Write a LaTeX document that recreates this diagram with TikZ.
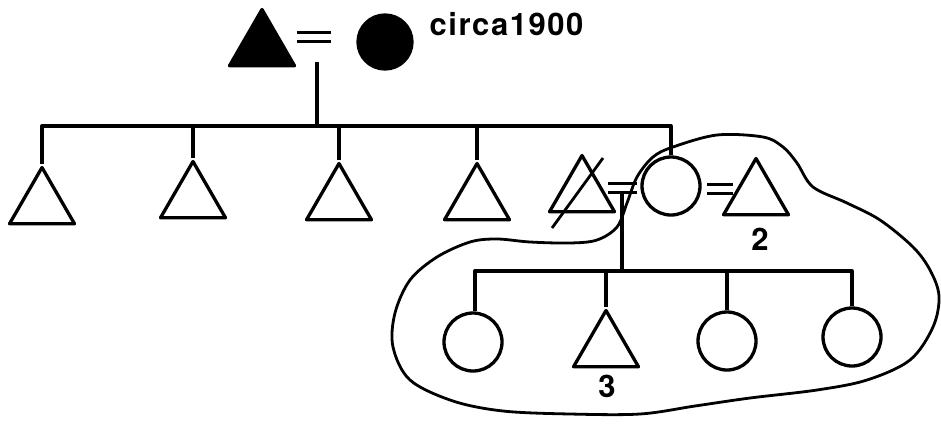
\documentclass[tikz,border=0pt]{standalone}
\usepackage{fontspec}
\setsansfont{TeX Gyre Heros}
\usetikzlibrary{positioning, calc, shapes.geometric}

\begin{document}
\begin{tikzpicture}[
  x=1pt, y=-1pt,
  line width=3.3pt, line join=round,
  male/.style={draw, regular polygon, regular polygon sides=3,
               minimum size=75pt, inner sep=0pt},
  female/.style={draw, circle, minimum size=58pt, inner sep=0pt},
  couple/.style={double, double distance=6pt},
  tag/.style={font=\sffamily\bfseries\fontsize{31}{31}\selectfont, inner sep=0pt},
  outline/.style={line width=2.8pt},
]
\useasboundingbox (0,0) rectangle (941,424);

\node[male, fill] (gf) at (262,47) {};
\node[female, fill, minimum size=54pt] (gm) at (385,42) {};
\node[tag, anchor=base west] (date) at (428,35) {\addfontfeature{LetterSpace=5}circa1900};
\coordinate (m0a) at (297,37);
\coordinate (m0b) at (331,37);
\coordinate (d0) at (317,62);

\node[male] (s1) at (42,205) {};
\node[male] (s2) at (193,199) {};
\node[male] (s3) at (339,201) {};
\node[male] (s4) at (477,201) {};
\node[male] (h1) at (582,193) {};
\node[female] (w) at (671,186) {};
\node[male] (h2) at (756,196) {};
\node[tag, anchor=base] (n2) at (760,250) {2};
\coordinate (sibL) at (42,126);
\coordinate (m1a) at (608,188);
\coordinate (m1b) at (637,188);
\coordinate (m2a) at (707,189);
\coordinate (m2b) at (733,189);
\coordinate (d1) at (622,192);

\node[female] (k1) at (473,342) {};
\node[male] (k2) at (606,348) {};
\node[female] (k3) at (727,341) {};
\node[female] (k4) at (852,337) {};
\node[tag, anchor=base] (n3) at (607,397) {3};
\coordinate (kidL) at (475,271);

\draw[couple] (m0a) -- (m0b);
\draw (d0) -- (d0 |- sibL);
\draw (s1.corner 1) -- (sibL) -- (w.north |- sibL) -- (w.north);
\foreach \s in {s2,s3,s4}
  \draw (\s.corner 1) -- (\s.corner 1 |- sibL);
\draw[outline] ($(h1.center)+(21,-35)$) -- ($(h1.center)+(-30,35)$);

\draw[couple] (m1a) -- (m1b);
\draw[couple] (m2a) -- (m2b);
\draw (d1) -- (d1 |- kidL);
\draw (k1.north -| kidL) -- (kidL) -- (k4.north |- kidL) -- (k4.north);
\draw (k2.corner 1) -- (k2.corner 1 |- kidL);
\draw (k3.north) -- (k3.north |- kidL);

\draw[outline] plot[smooth cycle, tension=0.55] coordinates {
  (597,240) (617,227) (627,203) (637,177) (653,157) (673,147) (717,135)
  (763,137) (783,147) (797,163) (813,187) (847,203) (880,220) (913,247)
  (930,270) (939,296) (933,327) (910,360) (867,380) (817,390) (750,398)
  (695,406) (640,414) (570,414) (503,411) (453,401) (410,380) (393,347)
  (395,313) (410,280) (437,257) (470,242) (497,239) (530,242) (570,243)};
\end{tikzpicture}
\end{document}
